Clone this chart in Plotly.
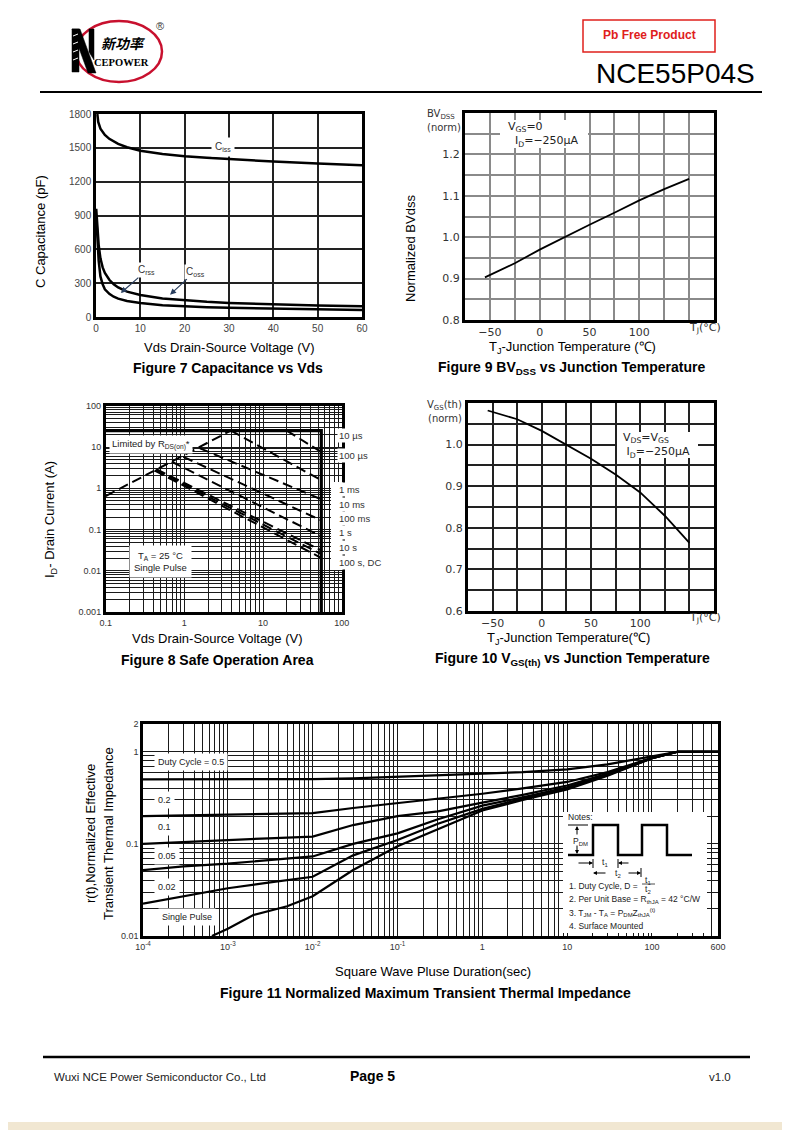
import math
import plotly.graph_objects as go

W, H = 790, 1130
OX, OY = 8, 8  # page body margin compensation

# ---------------- data ----------------
# Figure 7: capacitance vs Vds
cap_ciss_v = [0.3, 0.5, 1, 1.5, 2, 3, 4, 5, 7, 10, 15, 20, 25, 30, 40, 50, 60]
cap_ciss = [1800, 1730, 1670, 1640, 1615, 1580, 1555, 1535, 1505, 1475, 1445, 1425, 1412, 1400, 1378, 1360, 1345]
cap_v = [0.05, 0.3, 0.6, 1, 1.5, 2, 3, 4, 5, 7, 10, 15, 20, 25, 30, 40, 50, 60]
cap_coss = [960, 800, 640, 520, 440, 390, 330, 290, 262, 225, 195, 165, 148, 135, 125, 112, 102, 95]
cap_crss = [900, 680, 500, 360, 290, 245, 205, 180, 163, 142, 124, 104, 94, 87, 81, 74, 68, 63]

# Figure 9: BVdss vs Tj
bv_t = [-55, -25, 0, 25, 50, 75, 100, 125, 150]
bv_norm = [0.903, 0.937, 0.970, 1.001, 1.030, 1.059, 1.089, 1.116, 1.141]

# Figure 8: safe operating area
soa_limit_v = [0.1, 55, 55]
soa_limit_i = [25, 25, 0.001]
soa_rds_v = [0.1, 3.9]
soa_rds_i = [0.65, 25]
soa_names = ["10 µs", "100 µs", "1 ms", "10 ms", "100 ms", "1 s", "10 s", "100 s, DC"]
soa_v = [[20, 54], [3.9, 54], [1.58, 54], [0.97, 54], [0.69, 54], [0.44, 54], [0.43, 54], [0.42, 54]]
soa_i = [[25, 7.7], [25, 1.6], [9.3, 0.55], [5.8, 0.17], [4.4, 0.07], [2.9, 0.032], [2.8, 0.026], [2.7, 0.021]]

# Figure 10: Vgs(th) vs Tj
vth_t = [-55, -25, 0, 25, 50, 75, 100, 125, 150]
vth_norm = [1.082, 1.061, 1.033, 1.000, 0.966, 0.928, 0.885, 0.829, 0.764]

# Figure 11: transient thermal impedance
zth_t = [1e-4, 3e-4, 1e-3, 3e-3, 1e-2, 3e-2, 0.1, 0.3, 1, 3, 10, 30, 100, 200, 600]
zth_d05 = [0.50, 0.50, 0.50, 0.50, 0.505, 0.515, 0.535, 0.555, 0.57, 0.60, 0.645, 0.73, 0.89, 1.0, 1.0]
zth_d02 = [0.20, 0.203, 0.207, 0.21, 0.216, 0.245, 0.278, 0.307, 0.35, 0.40, 0.47, 0.60, 0.86, 1.0, 1.0]
zth_d01 = [0.10, 0.105, 0.11, 0.115, 0.12, 0.16, 0.20, 0.225, 0.28, 0.34, 0.43, 0.58, 0.85, 1.0, 1.0]
zth_d005 = [0.052, 0.057, 0.061, 0.066, 0.073, 0.10, 0.13, 0.185, 0.26, 0.32, 0.41, 0.57, 0.85, 1.0, 1.0]
zth_d002 = [0.0225, 0.027, 0.033, 0.038, 0.044, 0.075, 0.11, 0.165, 0.24, 0.31, 0.40, 0.56, 0.85, 1.0, 1.0]
zth_single_t = [6.5e-4, 1e-3, 2e-3, 5e-3, 1e-2, 3e-2, 0.1, 0.3, 1, 3, 10, 30, 100, 200, 600]
zth_single = [0.01, 0.012, 0.0169, 0.021, 0.027, 0.052, 0.094, 0.145, 0.23, 0.30, 0.39, 0.55, 0.85, 1.0, 1.0]
zth_labels = ["Duty Cycle = 0.5", "0.2", "0.1", "0.05", "0.02", "Single Pulse"]

# ---------------- helpers ----------------
ARIAL = "Liberation Sans, Arial, sans-serif"
DJ = "DejaVu Sans, sans-serif"

def fx(p):
    return (p - OX) / W

def fy(p):
    return 1 - (p - OY) / H

def dx(L, R):
    return [fx(L), fx(R)]

def dy(T, B):
    return [fy(B), fy(T)]

annotations = []
shapes = []

def T(text, x, y, size=12, color="black", family=ARIAL, xanchor="center",
      yanchor="middle", angle=0, bg=None, pad=1, align="center"):
    d = dict(text=text, x=fx(x), y=fy(y), xref="paper", yref="paper", showarrow=False,
             font=dict(size=size, color=color, family=family), align=align,
             xanchor=xanchor, yanchor=yanchor, textangle=angle)
    if bg:
        d.update(bgcolor=bg, borderpad=pad)
    annotations.append(d)

def arrow(x, y, ax, ay, w=1, size=0.8):
    annotations.append(dict(text="", x=fx(x), y=fy(y), xref="paper", yref="paper",
                            showarrow=True, ax=ax, ay=ay, arrowhead=2, arrowsize=size,
                            arrowwidth=w, arrowcolor="black"))

def rect(x0, y0, x1, y1, fill="white", line=None, lw=0, layer="above"):
    shapes.append(dict(type="rect", xref="paper", yref="paper", x0=fx(x0), x1=fx(x1),
                       y0=fy(y1), y1=fy(y0), fillcolor=fill,
                       line=dict(color=line or "rgba(0,0,0,0)", width=lw), layer=layer))

def seg(x0, y0, x1, y1, color="black", w=1):
    shapes.append(dict(type="line", xref="paper", yref="paper", x0=fx(x0), x1=fx(x1),
                       y0=fy(y0), y1=fy(y1), line=dict(color=color, width=w), layer="above"))

def poly(pts, fill=None, color="black", w=1, close=False):
    d = "M " + " L ".join(f"{fx(x):.5f},{fy(y):.5f}" for x, y in pts)
    if close:
        d += " Z"
    shapes.append(dict(type="path", xref="paper", yref="paper", path=d,
                       fillcolor=fill or "rgba(0,0,0,0)", line=dict(color=color, width=w), layer="above"))

def base_axis(domain, anchor, tickfont, grid, gw, lw, **kw):
    d = dict(domain=domain, anchor=anchor, tickfont=tickfont, showgrid=True, gridcolor=grid,
             gridwidth=gw, showline=True, mirror=True, linecolor="black", linewidth=lw,
             zeroline=False, ticks="", fixedrange=True, automargin=False)
    d.update(kw)
    return d

def log_vals(e0, e1):
    vals, txt = [], []
    for e in range(e0, e1):
        for m in range(1, 10):
            vals.append(round(m * 10 ** e, 8))
            txt.append(m == 1)
    return vals, txt

fig = go.Figure()

def line_trace(x, y, ax, w=2.2, dash="solid", color="black"):
    fig.add_trace(go.Scatter(x=x, y=y, mode="lines", xaxis="x" + ax, yaxis="y" + ax,
                             line=dict(color=color, width=w, dash=dash),
                             hoverinfo="skip", showlegend=False))

# ---------------- Figure 7 ----------------
f7 = dict(size=10, color="#444", family=ARIAL)
xa1 = base_axis(dx(96, 362), "y", f7, "#222", 1.5, 2.5, range=[0, 60],
                tickvals=list(range(0, 61, 10)))
ya1 = base_axis(dy(114, 317), "x", f7, "#222", 1.5, 2.5, range=[0, 1800],
                tickvals=list(range(0, 1801, 300)))
line_trace(cap_ciss_v, cap_ciss, "", 2.5)
line_trace(cap_v, cap_coss, "", 2.5)
line_trace(cap_v, cap_crss, "", 2.5)
annotations.append(dict(text="C<sub>iss</sub>", x=28.6, y=1505, xref="x", yref="y", showarrow=False,
                        font=dict(size=10, family=ARIAL, color="#333"), bgcolor="white", borderpad=3))
annotations.append(dict(text="C<sub>rss</sub>", x=5.6, y=212, xref="x", yref="y", showarrow=True,
                        ax=26, ay=-23, arrowhead=2, arrowsize=1, arrowwidth=1.2,
                        font=dict(size=10, family=ARIAL, color="#333"), bgcolor="white", borderpad=1))
annotations.append(dict(text="C<sub>oss</sub>", x=16.7, y=198, xref="x", yref="y", showarrow=True,
                        ax=25, ay=-23, arrowhead=2, arrowsize=1, arrowwidth=1.2,
                        font=dict(size=10, family=ARIAL, color="#333"), bgcolor="white", borderpad=1))
T("C Capacitance (pF)", 40, 232, 13, angle=-90)
T("Vds Drain-Source Voltage (V)", 229, 347, 13)
T("<b>Figure 7 Capacitance vs Vds</b>", 228, 368, 14)

# ---------------- Figure 9 ----------------
f9 = dict(size=11, color="#333", family=DJ)
tvals = list(range(-75, 176, 25))
ttext = [{-50: "−50", 0: "0", 50: "50", 100: "100"}.get(v, "") for v in tvals]
bv_vals = [round(0.8 + 0.05 * i, 2) for i in range(11)]
bv_text = [f"{v:.1f}" if i % 2 == 0 and i < 10 else "" for i, v in enumerate(bv_vals)]
xa2 = base_axis(dx(465, 714), "y2", f9, "#8a8a8a", 1.5, 3, range=[-75, 175],
                tickvals=tvals, ticktext=ttext)
ya2 = base_axis(dy(113, 320), "x2", f9, "#8a8a8a", 1.5, 3, range=[0.8, 1.3],
                tickvals=bv_vals, ticktext=bv_text)
line_trace(bv_t, bv_norm, "2", 1.8)
rect(500, 120, 588, 148)
T("V<sub>GS</sub>=0<br>  I<sub>D</sub>=−250μA", 506, 134, 11, "#222", DJ, xanchor="left", align="left")
T("BV<sub>DSS</sub>", 441, 115, 10, "#333", DJ)
T("(norm)", 444, 128, 10, "#333", DJ)
T("T<sub>J</sub>(°C)", 705, 328, 11, "#333", DJ)
T("Normalized BVdss", 411, 249, 13, angle=-90)
T("T<sub>J</sub>-Junction Temperature (℃)", 572, 347, 13)
T("<b>Figure 9 BV<sub>DSS</sub> vs Junction Temperature</b>", 572, 368, 14)

# ---------------- Figure 8 ----------------
f8 = dict(size=9, color="#333", family=ARIAL)
sx_vals, sx_is = log_vals(-1, 2)
sx_vals.append(100); sx_is.append(True)
sx_text = [("%g" % v) if m else "" for v, m in zip(sx_vals, sx_is)]
sy_vals, sy_is = log_vals(-3, 2)
sy_vals.append(100); sy_is.append(True)
sy_text = [("%g" % v) if m else "" for v, m in zip(sy_vals, sy_is)]
xa3 = base_axis(dx(105.7, 341.7), "y3", f8, "#1a1a1a", 1, 2.5, type="log", range=[-1, 2],
                tickvals=sx_vals, ticktext=sx_text)
ya3 = base_axis(dy(405.7, 612.3), "x3", f8, "#1a1a1a", 1, 2.5, type="log", range=[-3, 2],
                tickvals=sy_vals, ticktext=sy_text)
line_trace(soa_limit_v, soa_limit_i, "3", 3.2)
line_trace(soa_rds_v, soa_rds_i, "3", 2, dash="10px,5px")
for vv, ii in zip(soa_v, soa_i):
    line_trace(vv, ii, "3", 2, dash="10px,5px")
T("Limited by R<sub>DS(on)</sub>*", 109, 444, 9.5, "#222", xanchor="left", bg="white", pad=2)
T("T<sub>A</sub> = 25 °C<br>Single Pulse", 160, 561, 9.5, "#222", bg="white", pad=4)
rect(331, 482, 342.5, 570)
soa_label_y = [435, 455, 490, 504, 518, 533, 547, 562]
for name, yy in zip(soa_names, soa_label_y):
    T(name, 337, yy, 9.5, "#333", xanchor="left", bg="white", pad=1)
T("I<sub>D</sub>- Drain Current (A)", 50, 520, 13, angle=-90)
T("Vds Drain-Source Voltage (V)", 218, 638, 13)
T("<b>Figure 8 Safe Operation Area</b>", 217, 660, 14)

# ---------------- Figure 10 ----------------
vth_vals = [round(0.6 + 0.05 * i, 2) for i in range(11)]
vth_text = [f"{v:.1f}" if i % 2 == 0 and i < 10 else "" for i, v in enumerate(vth_vals)]
xa4 = base_axis(dx(468, 714), "y4", f9, "#222", 1.5, 3, range=[-75, 175],
                tickvals=tvals, ticktext=ttext)
ya4 = base_axis(dy(403, 611), "x4", f9, "#222", 1.5, 3, range=[0.6, 1.1],
                tickvals=vth_vals, ticktext=vth_text)
line_trace(vth_t, vth_norm, "4", 1.8)
rect(617, 432, 698, 458)
T("V<sub>DS</sub>=V<sub>GS</sub><br> I<sub>D</sub>=−250μA", 621, 445, 11, "#222", DJ, xanchor="left", align="left")
T("V<sub>GS</sub>(th)", 444, 406, 10, "#333", DJ)
T("(norm)", 445, 418, 10, "#333", DJ)
T("T<sub>J</sub>(°C)", 705, 618, 11, "#333", DJ)
T("T<sub>J</sub>-Junction Temperature(℃)", 568, 638, 13)
T("<b>Figure 10 V<sub>GS(th)</sub> vs Junction Temperature</b>", 572, 659, 14)

# ---------------- Figure 11 ----------------
f11 = dict(size=9, color="#333", family=ARIAL)
tx_vals, tx_is = log_vals(-4, 2)
tx_vals += [100, 200, 300, 400, 500, 600]
tx_is += [True, False, False, False, False, True]
sup = {-4: "10<sup>-4</sup>", -3: "10<sup>-3</sup>", -2: "10<sup>-2</sup>", -1: "10<sup>-1</sup>"}
tx_text = []
for v, m in zip(tx_vals, tx_is):
    if not m:
        tx_text.append("")
    elif v < 1:
        tx_text.append(sup[round(math.log10(v))])
    else:
        tx_text.append("%g" % v)
ty_vals, ty_is = log_vals(-2, 0)
ty_vals += [1, 2]
ty_is += [True, True]
ty_text = [("%g" % v) if m else "" for v, m in zip(ty_vals, ty_is)]
xa5 = base_axis(dx(143, 718), "y5", f11, "#1a1a1a", 1, 2.5, type="log",
                range=[-4, math.log10(600)], tickvals=tx_vals, ticktext=tx_text)
ya5 = base_axis(dy(724, 936), "x5", f11, "#1a1a1a", 1, 2.5, type="log",
                range=[-2, math.log10(2)], tickvals=ty_vals, ticktext=ty_text)
for series in [zth_d05, zth_d02, zth_d01, zth_d005, zth_d002]:
    line_trace(zth_t, series, "5", 2.2)
line_trace(zth_single_t, zth_single, "5", 2.2)
zl_pos = [(154, 762), (154, 800), (154, 827), (154, 856), (154, 887), (158, 917)]
for txt, (xx, yy) in zip(zth_labels, zl_pos):
    T(txt, xx, yy, 9, "#222", xanchor="left", bg="white", pad=3)

# notes box
rect(563, 812, 707, 933)
T("Notes:", 566, 817, 8.5, "#222", xanchor="left")
poly([(568, 855), (593, 855), (593, 825), (618, 825), (618, 855), (642, 855),
      (642, 825), (667, 825), (667, 855), (692, 855)], w=2.5)
seg(568, 825, 588, 825, "black", 1)
arrow(577, 826, 0, 10)
arrow(577, 854, 0, -10)
T("P<sub>DM</sub>", 580, 841, 8.5, "#222")
seg(593, 859, 593, 868)
seg(618, 859, 618, 868)
arrow(593, 863, -16, 0)
arrow(618, 863, 12, 0)
T("t<sub>1</sub>", 605, 862, 8.5, "#222")
seg(641, 868, 641, 877)
arrow(593, 873, 14, 0)
arrow(641, 873, -14, 0)
T("t<sub>2</sub>", 618, 873, 8.5, "#222")
T("1. Duty Cycle, D = ", 567, 886, 8.5, "#222", xanchor="left")
T("t<sub>1</sub>", 648, 880, 8.5, "#222")
seg(642, 884, 655, 884, "#222", 0.8)
T("t<sub>2</sub>", 648, 890, 8.5, "#222")
T("2. Per Unit Base = R<sub>thJA</sub> = 42 °C/W", 567, 899, 8.5, "#222", xanchor="left")
T("3. T<sub>JM</sub> - T<sub>A</sub> = P<sub>DM</sub>Z<sub>thJA</sub><sup>(t)</sup>", 567, 912, 8.5, "#222", xanchor="left")
T("4. Surface Mounted", 567, 926, 8.5, "#222", xanchor="left")

T("r(t),Normalized Effective", 90, 834, 13, angle=-90)
T("Transient Thermal Impedance", 108, 834, 13, angle=-90)
T("Square Wave Pluse Duration(sec)", 433, 971, 13)
T("<b>Figure 11 Normalized Maximum Transient Thermal Impedance</b>", 425, 993, 14)

# ---------------- header ----------------
shapes.append(dict(type="circle", xref="paper", yref="paper", x0=fx(76), x1=fx(162),
                   y0=fy(82), y1=fy(21), line=dict(color="#c8102e", width=2.5),
                   fillcolor="white", layer="above"))
poly([(72, 29), (79, 29), (79, 72), (72, 72)], fill="black", w=0.5, close=True)
poly([(72, 29), (80, 29), (96, 73), (88, 73)], fill="black", w=0.5, close=True)
poly([(89, 29), (94, 29), (94, 60), (89, 52)], fill="black", w=0.5, close=True)
for yy in [36, 44, 52, 60]:
    seg(73, yy, 78, yy - 2, "white", 1)
T("<b><i>新功率</i></b>", 123, 43, 14, "black", "Noto Sans CJK SC")
T("<b>CEPOWER</b>", 121, 63, 10.5, "black", "Liberation Serif, serif")
T("®", 160, 26, 11, "#333")
rect(583, 20, 715, 52, fill="white", line="#e0201c", lw=1.5)
T("<b>Pb Free Product</b>", 649, 35, 12, "#e0201c")
T("NCE55P04S", 675, 74, 28, "black")
seg(40, 92, 762, 92, "black", 2.2)

# ---------------- footer ----------------
seg(43, 1057, 750, 1057, "black", 2.5)
T("Wuxi NCE Power Semiconductor Co., Ltd", 52, 1077, 11.5, "#222", xanchor="left")
T("<b>Page 5</b>", 372, 1076, 14, "black")
T("v1.0", 720, 1077, 11.5, "#222")
rect(0, 1122, 800, 1140, fill="#f1e7d2", layer="below")

fig.update_layout(
    width=W, height=H, margin=dict(l=0, r=0, t=0, b=0, pad=0, autoexpand=False),
    paper_bgcolor="white", plot_bgcolor="white", showlegend=False,
    xaxis=xa1, yaxis=ya1, xaxis2=xa2, yaxis2=ya2, xaxis3=xa3, yaxis3=ya3,
    xaxis4=xa4, yaxis4=ya4, xaxis5=xa5, yaxis5=ya5,
    annotations=annotations, shapes=shapes,
)
fig.write_html("out.html")
